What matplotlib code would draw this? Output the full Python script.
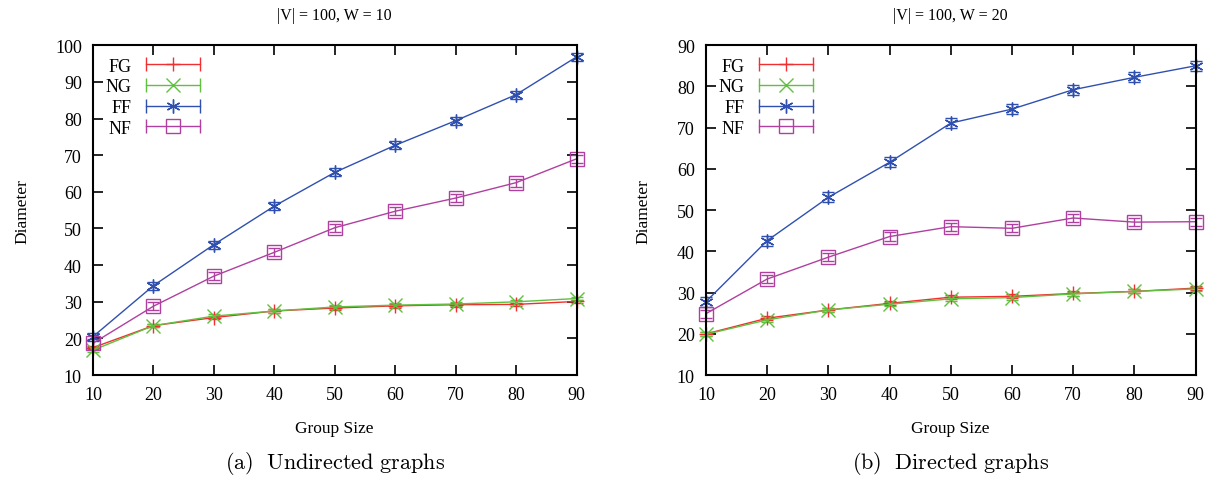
import numpy as np
import matplotlib.pyplot as plt
from matplotlib.lines import Line2D
from matplotlib.legend_handler import HandlerLine2D

plt.rcParams['font.family'] = ['Liberation Serif', 'DejaVu Serif']
plt.rcParams['mathtext.fontset'] = 'cm'

group = [10, 20, 30, 40, 50, 60, 70, 80, 90]
names = ['FG', 'NG', 'FF', 'NF']

# (a) undirected, W = 10
und_fg = [17.5, 23.5, 25.7, 27.5, 28.3, 28.9, 29.2, 29.3, 30.1]
und_ng = [16.8, 23.5, 26.1, 27.5, 28.6, 29.1, 29.4, 30.0, 30.9]
und_ff = [20.5, 34.4, 45.6, 56.1, 65.3, 72.7, 79.4, 86.5, 96.8]
und_nf = [18.7, 28.8, 37.0, 43.5, 50.2, 54.7, 58.3, 62.5, 69.0]
und_err = [0.5, 0.5, 1.1, 1.1]

# (b) directed, W = 20
dir_fg = [20.0, 23.8, 25.8, 27.4, 28.9, 29.1, 29.8, 30.3, 31.1]
dir_ng = [19.9, 23.4, 25.8, 27.2, 28.5, 28.8, 29.7, 30.3, 30.9]
dir_ff = [27.8, 42.6, 53.1, 61.6, 71.1, 74.5, 79.2, 82.2, 85.0]
dir_nf = [24.9, 33.3, 38.6, 43.6, 46.0, 45.6, 48.1, 47.1, 47.2]
dir_err = [0.5, 0.5, 1.2, 1.0]

colors = ['#f03030', '#60c040', '#3050b0', '#b040a0']
markers = ['+', 'x', (6, 2, 0), 's']

fig = plt.figure(figsize=(12.15, 4.81), dpi=100)
ax1 = fig.add_axes([0.0765, 0.218, 0.398, 0.686])
ax2 = fig.add_axes([0.581, 0.218, 0.403, 0.686])

panels = [
    (ax1, [und_fg, und_ng, und_ff, und_nf], und_err, '|V| = 100, W = 10',
     (10, 100), r'$\mathrm{(a)\ \ Undirected\ graphs}$'),
    (ax2, [dir_fg, dir_ng, dir_ff, dir_nf], dir_err, '|V| = 100, W = 20',
     (10, 90), r'$\mathrm{(b)\ \ Directed\ graphs}$'),
]

for ax, series, errs, title, ylim, caption in panels:
    handles = []
    hmap = {}
    for ys, e, c, m, n in zip(series, errs, colors, markers, names):
        mfc = 'none' if m == 's' else c
        ax.errorbar(group, ys, yerr=e, color=c, marker=m, ms=10, mew=1.0,
                    mfc=mfc, lw=1.0, capsize=4, elinewidth=1.0, clip_on=False)
        caps = Line2D([], [], color=c, lw=1.0, marker='|', ms=10, mew=1.0)
        mid = Line2D([], [], color=c, lw=0, marker=m, ms=10, mew=1.0, mfc=mfc)
        hmap[mid] = HandlerLine2D(numpoints=1)
        hmap[caps] = HandlerLine2D(numpoints=2)
        handles.append((caps, mid))
    ax.set_xlim(10, 90)
    ax.set_ylim(*ylim)
    ax.set_xticks(group)
    ax.set_yticks(np.arange(ylim[0], ylim[1] + 1, 10))
    ax.tick_params(direction='in', length=7, width=1.2, top=True, right=True,
                   labelsize=13, pad=8)
    for s in ax.spines.values():
        s.set_linewidth(1.5)
    ax.set_title(title, fontsize=11.5, pad=19)
    ax.set_xlabel('Group Size', fontsize=12.5, labelpad=12)
    ax.set_ylabel('Diameter', fontsize=12.5, labelpad=18)
    ax.legend(handles, names, handler_map=hmap, loc='upper left',
              markerfirst=False, frameon=False, fontsize=13,
              handlelength=3.6, handletextpad=0.5, labelspacing=0.2,
              borderaxespad=0.3, borderpad=0.4)
    ax.text(0.5, -0.265, caption, transform=ax.transAxes, ha='center',
            va='center', fontsize=16)

fig.savefig('out.png', dpi=100)
